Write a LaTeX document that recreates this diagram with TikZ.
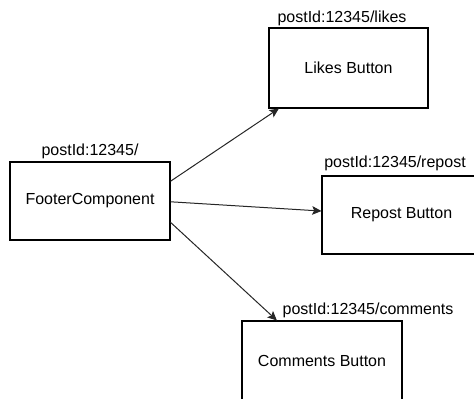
\documentclass[tikz,border=0pt]{standalone}
\usepackage{fontspec}
\setmainfont{Liberation Sans}
\usetikzlibrary{arrows.meta,calc}

\tikzset{
  box/.style={draw=black, line width=0.8pt, fill=white, inner sep=0pt,
              font=\fontsize{12}{14}\selectfont},
  pathlabel/.style={inner sep=0pt, font=\fontsize{12}{14}\selectfont},
  link/.style={draw=black!85, line width=0.75pt,
               -{Stealth[length=7pt, width=6.5pt, inset=1.5pt]}}
}

\begin{document}
\begin{tikzpicture}[x=0.75pt, y=-0.75pt]
  \useasboundingbox (0,0) rectangle (474,399);

  % component boxes
  \node[box, minimum width=120pt, minimum height=58.5pt] (footer) at (90,201) {FooterComponent};
  \node[box, minimum width=119.25pt, minimum height=60pt] (likes) at (348.5,68) {Likes Button};
  \node[box, minimum width=119.25pt, minimum height=58.5pt] (repost) at (401.5,215) {Repost Button};
  \node[box, minimum width=120pt, minimum height=60pt] (comments) at (322,361) {Comments Button};

  % path labels above each box
  \node[pathlabel] (footerpath) at (90,151.5) {postId:12345/};
  \node[pathlabel] (likespath) at (342,18.5) {postId:12345/likes};
  \node[pathlabel] (repostpath) at (395,163) {postId:12345/repost};
  \node[pathlabel] (commentspath) at (368,310) {postId:12345/comments};

  % attachment points on the box edges
  \coordinate (f1) at ($(footer.north east)!0.25!(footer.south east)$);
  \coordinate (f2) at ($(footer.north east)!0.51!(footer.south east)$);
  \coordinate (f3) at ($(footer.north east)!0.77!(footer.south east)$);
  \coordinate (l1) at ($(likes.south west)!0.065!(likes.south east)$);
  \coordinate (r1) at ($(repost.north west)!0.45!(repost.south west)$);
  \coordinate (c1) at ($(comments.north west)!0.22!(comments.north east)$);

  % connectors
  \draw[link] (f1) -- (l1);
  \draw[link] (f2) -- (r1);
  \draw[link] (f3) -- (c1);
\end{tikzpicture}
\end{document}
